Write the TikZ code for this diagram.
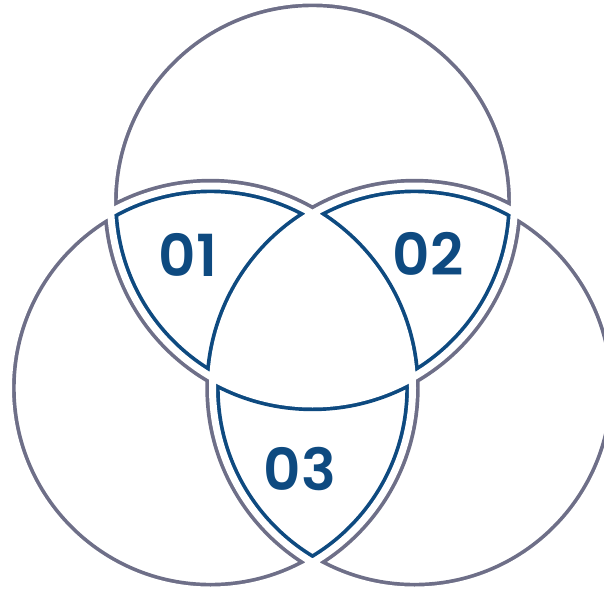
\documentclass[tikz,border=0pt]{standalone}
\usepackage{fontspec}
\setmainfont{Poppins}[BoldFont={Poppins SemiBold}]
\usetikzlibrary{positioning}

\definecolor{ringgray}{HTML}{6E6F88}
\definecolor{lensblue}{HTML}{0E4A80}

\newcommand{\rad}{202pt}
% keep only what lies outside circle #1 (scope must use even odd rule)
\newcommand{\outside}[1]{\clip (-20,-20) rectangle (640,620) (#1) circle[radius=\rad];}
% all three ring outlines in one path
\newcommand{\rings}{(ct) circle[radius=\rad] (cl) circle[radius=\rad] (cr) circle[radius=\rad]}

\begin{document}
\begin{tikzpicture}[x=1pt,y=-1pt,
  band/.style={line width=14.4pt},
  gap/.style={draw=white,line width=7pt},
  num/.style={text=lensblue,inner sep=0pt,font=\fontsize{58}{58}\selectfont\bfseries}
]
  \useasboundingbox (0,0) rectangle (604,591);
  \clip (0,0) rectangle (604,591);

  \coordinate (ct) at (312.5,202);
  \coordinate (cl) at (210.5,388);
  \coordinate (cr) at (414.5,388);

  % outer parts of the rings
  \foreach \i/\o/\p in {ct/cl/cr, cl/ct/cr, cr/ct/cl} {
    \begin{scope}[even odd rule]
      \clip (\i) circle[radius=\rad];
      \outside{\o}
      \outside{\p}
      \draw[band,draw=ringgray] \rings;
    \end{scope}
  }

  % overlaps of two rings
  \foreach \i/\j/\o in {ct/cl/cr, ct/cr/cl, cl/cr/ct} {
    \begin{scope}[even odd rule]
      \clip (\i) circle[radius=\rad];
      \clip (\j) circle[radius=\rad];
      \outside{\o}
      \draw[band,draw=lensblue] \rings;
    \end{scope}
  }

  % gaps between the parts
  \draw[gap] \rings;

  \node[num] (n1) at (188,255) {01};
  \node[num] (n2) at (428,254) {02};
  \node[num] (n3) at (300,469) {03};
\end{tikzpicture}
\end{document}
